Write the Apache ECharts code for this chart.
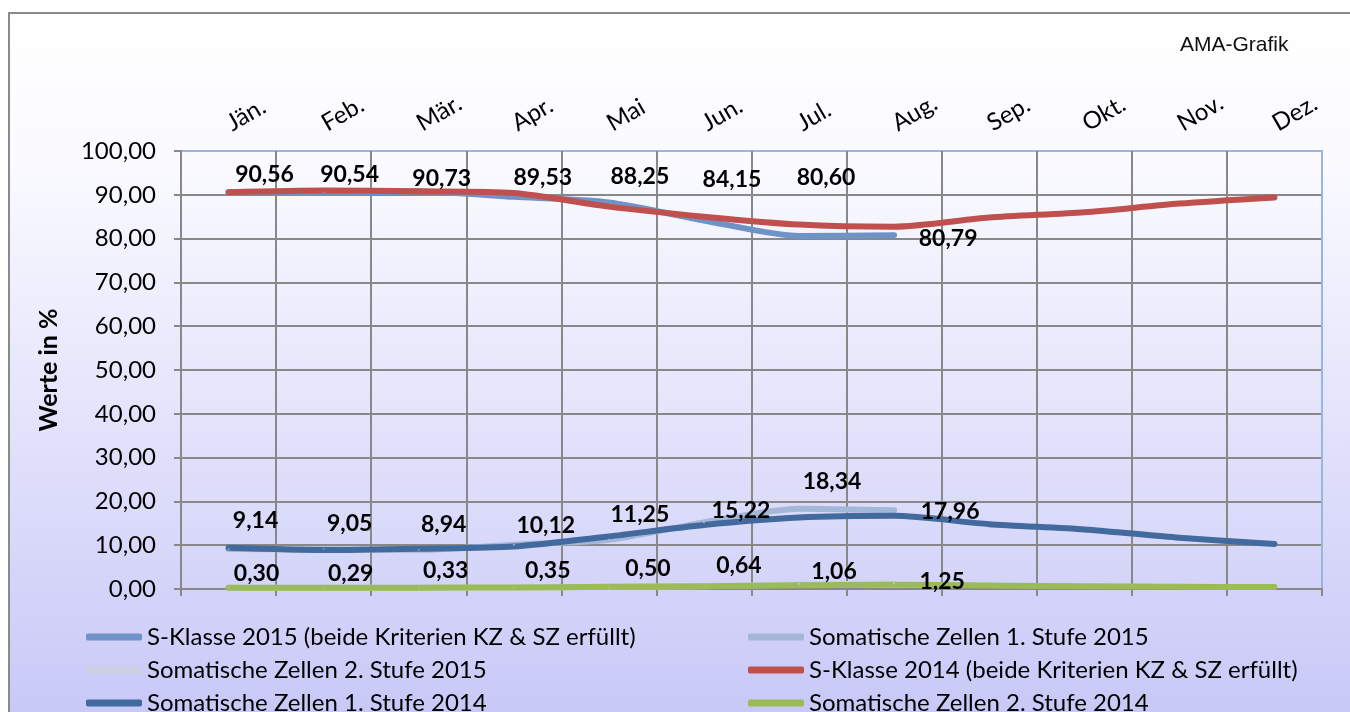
<!DOCTYPE html>
<html>
<head>
<meta charset="utf-8">
<script src="https://cdn.jsdelivr.net/npm/echarts@6/dist/echarts.min.js"></script>
<style>
  html, body { margin: 0; padding: 0; background: #fff; }
  #chart { width: 1350px; height: 712px; }
</style>
</head>
<body>
<div id="chart"></div>
<script>
  // Monatswerte
  const months = ['Jän.', 'Feb.', 'Mär.', 'Apr.', 'Mai', 'Jun.', 'Jul.', 'Aug.', 'Sep.', 'Okt.', 'Nov.', 'Dez.'];
  const sKlasse2015 = [90.56, 90.54, 90.73, 89.53, 88.25, 84.15, 80.60, 80.79];
  const szStufe1_2015 = [9.14, 9.05, 8.94, 10.12, 11.25, 15.22, 18.34, 17.96];
  const szStufe2_2015 = [0.30, 0.29, 0.33, 0.35, 0.50, 0.64, 1.06, 1.25];
  const sKlasse2014 = [90.6, 91.0, 90.8, 90.4, 87.3, 85.0, 83.2, 82.7, 84.8, 86.0, 88.0, 89.4];
  const szStufe1_2014 = [9.4, 8.9, 9.2, 9.7, 12.0, 14.6, 16.3, 16.7, 14.8, 13.6, 11.7, 10.3];
  const szStufe2_2014 = [0.3, 0.3, 0.3, 0.35, 0.5, 0.65, 0.85, 0.95, 0.8, 0.6, 0.5, 0.45];
  const yTicks = [0, 10, 20, 30, 40, 50, 60, 70, 80, 90, 100];

  // Label-Verschiebungen (Pixel) wie im Original
  const nudgeSK15 = [[36, -18], [26, -18], [23, -13], [29, -19], [31, -26], [28, -41], [27, -58], [54, 3]];
  const nudgeSZ1 = [[27, -28], [26, -26], [25, -25], [32, -19], [31, -25], [37, -12], [33, -27], [56, 1]];
  const nudgeSZ2 = [[28, -14], [27, -14], [27, -17], [34, -17], [39, -18], [35, -21], [35, -13], [48, -2]];

  const FONT = 'Lato, "Open Sans", sans-serif';
  const GRID_GREY = '#888';
  const BORDER_BLUE = '#9ab5de';
  const fmt = (v) => v.toFixed(2).replace('.', ',');

  function withLabels(values, nudges) {
    return values.map((v, i) => ({
      value: v,
      label: { offset: nudges[i] },
    }));
  }

  function lineSeries(name, color, data, labelled) {
    return {
      name: name,
      type: 'line',
      data: data,
      smooth: 0.25,
      symbol: 'circle',
      symbolSize: 2,
      showSymbol: true,
      itemStyle: { color: color },
      lineStyle: { color: color, width: 6, cap: 'round', join: 'round' },
      emphasis: { disabled: true },
      label: {
        show: labelled,
        position: 'inside',
        formatter: (p) => fmt(p.value),
        color: '#000',
        fontFamily: FONT,
        fontWeight: 'bold',
        fontSize: 23,
      },
      animation: false,
    };
  }

  // letzte Gitterlinie = Rahmen des Diagrammbereichs (hellblau)
  const ySplitColors = yTicks.map((t, i) => (i === yTicks.length - 1 ? BORDER_BLUE : GRID_GREY));
  const xSplitColors = months.concat(['']).map((m, i) => (i === months.length ? BORDER_BLUE : GRID_GREY));

  const legendBase = {
    orient: 'vertical',
    top: 625,
    height: 100,
    padding: 0,
    itemWidth: 56,
    itemHeight: 7,
    itemGap: 9,
    icon: 'roundRect',
    textStyle: { fontFamily: FONT, fontSize: 24, color: '#000' },
  };

  const chart = echarts.init(document.getElementById('chart'));

  chart.setOption({
    backgroundColor: '#fff',
    animation: false,
    graphic: [
      {
        type: 'rect',
        z: -10,
        silent: true,
        shape: { x: 9, y: 13, width: 1400, height: 760 },
        style: {
          fill: new echarts.graphic.LinearGradient(0, 0, 0, 1, [
            { offset: 0, color: '#ffffff' },
            { offset: 0.2, color: '#fafaff' },
            { offset: 1, color: '#c3c3f7' },
          ]),
          stroke: '#8a8a8a',
          lineWidth: 2,
        },
      },
    ],
    title: {
      text: 'AMA-Grafik',
      left: 1180,
      top: 35,
      padding: 0,
      textStyle: {
        fontFamily: '"Liberation Sans", Arial, sans-serif',
        fontWeight: 'normal',
        fontSize: 21,
        color: '#111',
      },
    },
    grid: {
      left: 181,
      top: 151,
      right: 28,
      bottom: 123,
      show: true,
      borderColor: BORDER_BLUE,
      borderWidth: 2,
      backgroundColor: 'transparent',
    },
    legend: [
      Object.assign({}, legendBase, {
        left: 86,
        data: ['S-Klasse 2015 (beide Kriterien KZ & SZ erfüllt)', 'Somatische Zellen 2. Stufe 2015', 'Somatische Zellen 1. Stufe 2014'],
      }),
      Object.assign({}, legendBase, {
        left: 748,
        data: ['Somatische Zellen 1. Stufe 2015', 'S-Klasse 2014 (beide Kriterien KZ & SZ erfüllt)', 'Somatische Zellen 2. Stufe 2014'],
      }),
    ],
    xAxis: [
      {
        type: 'category',
        data: months,
        position: 'top',
        boundaryGap: true,
        axisLine: { show: false },
        axisTick: { show: false },
        axisLabel: {
          rotate: 30,
          margin: 26,
          fontFamily: FONT,
          fontSize: 24,
          color: '#000',
        },
        splitLine: { show: true, interval: 0, lineStyle: { color: xSplitColors, width: 2 } },
      },
      {
        type: 'category',
        data: months,
        position: 'bottom',
        boundaryGap: true,
        axisLine: { show: true, onZero: false, lineStyle: { color: GRID_GREY, width: 2 } },
        axisTick: { show: true, interval: 0, length: 7, lineStyle: { color: GRID_GREY, width: 2 } },
        axisLabel: { show: false },
        splitLine: { show: false },
      },
    ],
    yAxis: {
      type: 'value',
      min: yTicks[0],
      max: yTicks[yTicks.length - 1],
      interval: yTicks[1] - yTicks[0],
      name: 'Werte in %',
      nameLocation: 'middle',
      nameGap: 120,
      nameRotate: 90,
      nameTextStyle: { fontFamily: FONT, fontWeight: 'bold', fontSize: 25, color: '#000' },
      axisLine: { show: true, lineStyle: { color: GRID_GREY, width: 2 } },
      axisTick: { show: true, length: 7, lineStyle: { color: GRID_GREY, width: 2 } },
      axisLabel: {
        margin: 25,
        formatter: fmt,
        fontFamily: FONT,
        fontSize: 24,
        color: '#000',
      },
      splitLine: { show: true, lineStyle: { color: ySplitColors, width: 2 } },
    },
    series: [
      lineSeries('S-Klasse 2015 (beide Kriterien KZ & SZ erfüllt)', '#6f93c6', withLabels(sKlasse2015, nudgeSK15), true),
      lineSeries('Somatische Zellen 1. Stufe 2015', '#a4b7d6', withLabels(szStufe1_2015, nudgeSZ1), true),
      lineSeries('Somatische Zellen 2. Stufe 2015', '#c9d1e2', withLabels(szStufe2_2015, nudgeSZ2), true),
      lineSeries('S-Klasse 2014 (beide Kriterien KZ & SZ erfüllt)', '#c0504d', sKlasse2014, false),
      lineSeries('Somatische Zellen 1. Stufe 2014', '#426a9e', szStufe1_2014, false),
      lineSeries('Somatische Zellen 2. Stufe 2014', '#9bbb59', szStufe2_2014, false),
    ],
  });
</script>
</body>
</html>
